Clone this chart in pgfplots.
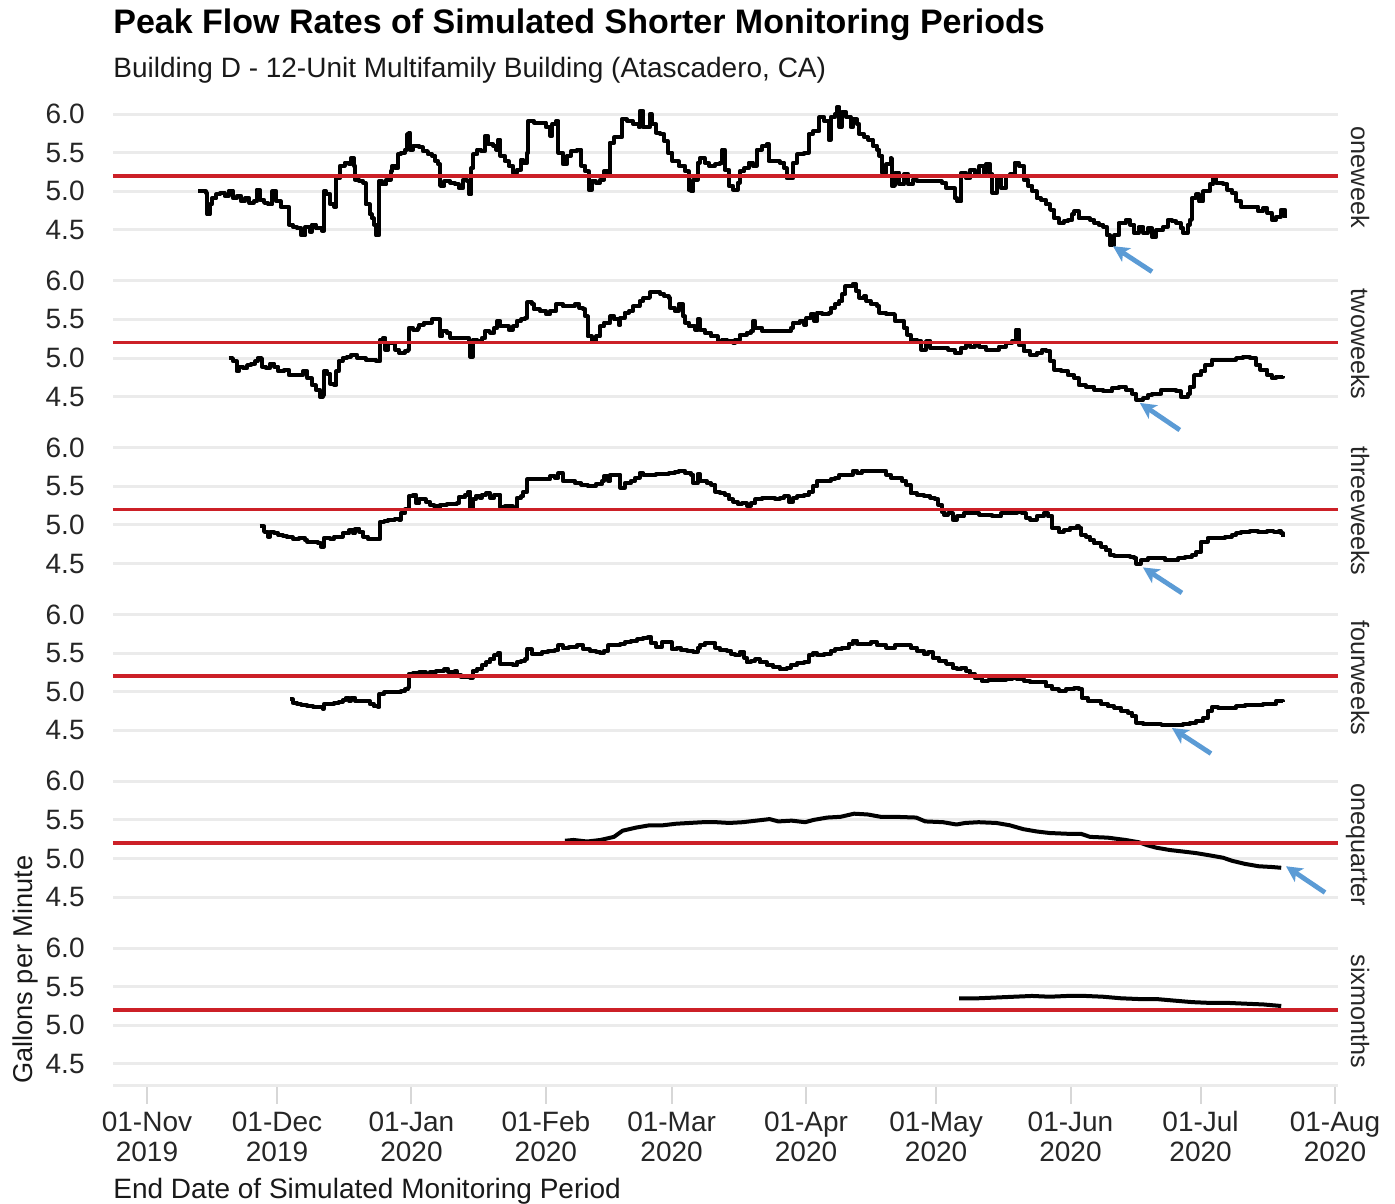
\documentclass[border=0pt]{standalone}
\usepackage{pgfplots}
\pgfplotsset{compat=1.18}
\usepackage{fontspec}
\setmainfont{Liberation Sans}
\usetikzlibrary{arrows.meta}
\definecolor{gridgray}{RGB}{235,235,235}
\definecolor{tickgray}{RGB}{215,215,215}
\definecolor{refred}{RGB}{204,32,39}
\definecolor{arrowblue}{RGB}{91,155,213}
\pgfplotsset{
  panel/.style={
    width=612.5pt, height=74.2pt, scale only axis,
    xmin=-7.84, xmax=274.7, ymin=4.22, ymax=6.14,
    axis line style={draw=none},
    ytick={4.5,5,5.5,6}, yticklabels={4.5,5.0,5.5,6.0},
    ymajorgrids, major grid style={draw=gridgray, line width=1.5pt},
    ytick style={draw=none},
    xtick=\empty,
    yticklabel style={font=\fontsize{14}{14}\selectfont, inner sep=0pt, anchor=east, xshift=-14pt, text=black!85},
    clip=false, anchor=north west,
  },
  ser/.style={black, line width=2pt, const plot, line join=round},
  sers/.style={black, line width=2pt, sharp plot, line join=round},
  refl/.style={refred, line width=1.8pt},
}
\tikzset{
  arr/.style={arrowblue, line width=2.4pt, -{Stealth[length=8pt,width=8pt,inset=2pt]}},
  strip/.style={xshift=6.5pt, rotate=-90, anchor=base, inner sep=0pt, font=\fontsize{12.6}{13}\selectfont, text=black!85},
}
\begin{document}
\begin{tikzpicture}
\useasboundingbox (-56.5pt,51.6pt) rectangle (641pt,-549.9pt);
% ---------------- oneweek
\begin{axis}[panel, name=p1, at={(0,0)}]
\addplot[ser] coordinates {
(11.8,5.01)(12.6,5.00)(13.6,4.98)(13.9,4.70)(14.5,4.83)(15.0,4.91)(16.0,4.96)(16.9,4.98)(17.9,4.94)(18.8,5.01)
(19.8,4.91)(20.7,4.94)(21.7,4.87)(22.6,4.91)(23.6,4.85)(24.6,4.87)(25.3,5.02)(26.0,4.89)(27.0,4.85)(27.9,4.83)
(28.9,5.00)(29.8,4.87)(30.8,4.80)(32.2,4.80)(32.7,4.57)(33.6,4.54)(34.6,4.52)(35.6,4.43)(36.5,4.54)(37.5,4.48)
(38.0,4.57)(38.9,4.52)(40.4,4.49)(40.8,5.00)(41.3,4.96)(42.3,4.83)(43.2,4.80)(43.7,5.17)(44.5,5.33)(45.6,5.37)
(46.6,5.35)(47.0,5.43)(47.7,5.33)(48.0,5.15)(49.0,5.13)(49.9,5.11)(50.4,4.83)(51.4,4.70)(51.8,4.65)(52.3,4.57)
(52.8,4.43)(53.5,5.13)(54.2,5.09)(55.2,5.15)(56.2,5.26)(56.6,5.33)(57.3,5.30)(57.9,5.48)(58.5,5.50)(59.5,5.54)
(60.0,5.74)(60.4,5.76)(60.7,5.54)(61.4,5.59)(62.8,5.57)(63.6,5.52)(64.8,5.48)(65.7,5.46)(66.5,5.39)(67.2,5.35)
(67.6,5.07)(68.6,5.13)(70.0,5.11)(71.0,5.09)(71.9,5.04)(72.9,5.15)(73.8,5.13)(74.3,4.96)(74.8,5.30)(75.3,5.48)
(76.2,5.54)(77.0,5.52)(78.0,5.72)(78.6,5.61)(79.9,5.59)(80.6,5.54)(81.0,5.67)(81.5,5.46)(82.5,5.39)(83.4,5.33)
(84.4,5.24)(85.3,5.28)(86.3,5.41)(86.8,5.37)(87.7,5.50)(87.9,5.91)(89.2,5.89)(90.6,5.89)(92.0,5.83)(93.0,5.72)
(93.5,5.87)(94.4,5.91)(94.9,5.50)(95.9,5.35)(96.8,5.46)(97.8,5.52)(99.2,5.54)(100.2,5.33)(101.1,5.26)(101.9,5.02)
(102.6,5.13)(103.5,5.11)(104.5,5.15)(105.4,5.26)(106.4,5.20)(106.7,5.63)(107.8,5.70)(108.8,5.70)(109.5,5.93)(110.7,5.91)
(112.1,5.87)(113.4,5.83)(113.7,6.04)(114.5,5.83)(116.0,6.00)(116.4,5.87)(117.4,5.76)(118.4,5.74)(119.3,5.65)(120.1,5.50)
(121.2,5.39)(122.6,5.33)(124.1,5.26)(124.9,5.02)(125.5,5.00)(126.0,5.15)(127.0,5.37)
(127.5,5.43)(128.6,5.37)(129.6,5.33)(131.1,5.35)(132.1,5.37)(132.7,5.54)(133.2,5.28)(134.2,5.07)(135.2,5.02)(136.2,5.11)
(136.7,5.26)(137.8,5.30)(138.8,5.37)(139.8,5.33)(140.6,5.54)(141.9,5.59)(142.9,5.61)(143.4,5.39)(144.4,5.39)(145.9,5.37)
(147.0,5.30)(147.5,5.17)(148.5,5.17)(149.0,5.37)(150.0,5.48)(151.6,5.50)(152.6,5.74)(153.6,5.78)(154.6,5.78)(155.1,5.96)
(156.2,5.91)(157.2,5.67)(157.7,5.96)(158.7,6.00)(159.2,6.09)(159.7,5.83)(160.2,6.02)(161.3,5.96)(162.3,5.83)(162.8,5.93)
(163.8,5.87)(164.3,5.74)(165.4,5.70)(166.4,5.67)(167.4,5.59)(168.4,5.54)(168.9,5.46)(169.6,5.24)(170.5,5.35)(171.5,5.43)
(171.8,5.07)(172.5,5.24)(173.5,5.09)(174.6,5.22)(175.6,5.09)(176.6,5.15)(177.6,5.13)(179.7,5.13)(181.7,5.13)(183.3,5.11)
(184.3,5.04)(185.3,5.04)(186.3,4.91)(186.8,4.87)(187.8,5.24)(188.9,5.17)(189.9,5.28)(190.9,5.22)(192.0,5.33)(193.0,5.24)
(193.5,5.35)(194.5,5.22)(195.0,4.98)(196.0,5.17)(197.0,5.04)(198.1,5.20)(199.1,5.22)(200.1,5.37)(201.1,5.33)(202.2,5.15)
(203.2,5.07)(204.2,5.00)(205.2,4.91)(206.2,4.89)(207.3,4.83)(208.3,4.76)(209.3,4.65)(210.3,4.59)(211.4,4.61)(212.4,4.63)
(213.4,4.70)(213.9,4.74)(214.9,4.65)(216.0,4.65)(217.5,4.63)(218.5,4.59)(219.5,4.57)(220.6,4.54)(221.4,4.43)(222.1,4.30)
(223.1,4.43)(224.1,4.59)(225.7,4.63)(226.7,4.57)(227.7,4.46)(228.7,4.54)(229.8,4.46)(230.8,4.52)(231.8,4.41)(232.8,4.50)
(234.4,4.54)(235.4,4.63)(236.4,4.61)(237.4,4.59)(238.4,4.52)(239.0,4.46)(240.0,4.57)(240.5,4.63)(241.0,4.91)(242.0,4.96)
(242.6,4.87)(243.6,5.00)(245.1,5.09)(245.9,5.20)(246.6,5.11)(248.2,5.09)(249.2,5.02)(250.2,4.98)(251.2,4.87)(252.3,4.80)
(253.8,4.80)(255.3,4.80)(256.3,4.74)(257.4,4.78)(258.4,4.72)(259.4,4.63)(260.4,4.67)(261.5,4.76)(262.5,4.66)
};
\addplot[refl] coordinates {(-7.84,5.2) (274.7,5.2)};
\draw[arr] (axis cs:231.8,3.96) -- (axis cs:222.8,4.29);
\node[strip] at (rel axis cs:1,0.5) {oneweek};
\end{axis}
% ---------------- twoweeks
\begin{axis}[panel, name=p2, at={(0,-83.4pt)}]
\addplot[ser] coordinates {
(18.8,5.00)(19.8,4.96)(20.7,4.83)(21.2,4.89)(22.2,4.87)(23.1,4.91)(24.1,4.93)(25.0,4.96)(25.5,5.00)(26.5,4.89)
(27.4,4.87)(28.4,4.93)(29.4,4.89)(30.3,4.83)(31.7,4.85)(32.7,4.78)(34.1,4.78)(36.0,4.83)(37.0,4.74)(38.0,4.65)
(38.9,4.59)(39.9,4.50)(40.5,4.52)(40.8,4.83)(41.6,4.80)(42.3,4.67)(43.2,4.65)(43.7,4.83)(44.2,4.96)(45.1,5.00)
(46.1,5.02)(47.0,5.04)(48.5,5.00)(50.4,4.98)(52.8,4.96)(53.3,4.96)(53.8,5.24)(54.4,5.26)(55.0,5.11)(55.7,5.20)
(56.6,5.20)(57.3,5.11)(58.1,5.07)(59.5,5.09)(60.2,5.11)(60.4,5.39)(61.4,5.37)(62.4,5.39)(62.8,5.43)(63.8,5.46)
(64.8,5.46)(65.7,5.50)(67.2,5.50)(67.6,5.28)(68.1,5.35)(69.1,5.33)(70.0,5.26)(71.4,5.26)(73.8,5.26)(74.3,5.22)
(74.6,5.02)(75.1,5.24)(76.2,5.22)(77.2,5.26)(78.0,5.35)(79.1,5.33)(80.1,5.39)(80.8,5.48)(81.5,5.41)(82.5,5.41)
(83.4,5.37)(84.4,5.41)(85.3,5.48)(86.3,5.50)(87.2,5.52)(87.7,5.72)(88.7,5.70)(89.2,5.63)(90.6,5.61)(92.0,5.57)
(93.0,5.61)(94.4,5.70)(95.9,5.67)(97.3,5.67)(98.7,5.70)(99.7,5.65)(100.6,5.63)(101.1,5.54)(101.6,5.28)(102.6,5.22)
(103.5,5.28)(104.5,5.41)(105.4,5.46)(106.9,5.54)(107.8,5.50)(108.8,5.43)(109.2,5.52)(110.2,5.59)(111.2,5.61)(112.1,5.67)
(113.6,5.74)(114.5,5.78)(116.0,5.85)(117.4,5.85)(118.4,5.83)(119.3,5.80)(120.3,5.78)(120.7,5.65)(121.7,5.61)(122.6,5.70)
(123.6,5.54)(124.1,5.46)(125.0,5.41)(126.5,5.37)(127.0,5.50)
(127.5,5.37)(128.6,5.33)(130.1,5.28)(131.6,5.22)(132.7,5.24)(133.7,5.22)(135.2,5.20)(135.7,5.24)(136.7,5.30)(138.3,5.33)
(139.3,5.35)(139.8,5.48)(140.3,5.39)(141.9,5.35)(143.4,5.35)(144.9,5.35)(146.4,5.35)(148.0,5.35)(148.5,5.39)(149.0,5.46)
(150.5,5.48)(151.6,5.43)(152.1,5.52)(153.1,5.57)(153.9,5.48)(154.6,5.59)(155.7,5.57)(157.2,5.59)(157.7,5.65)(158.7,5.70)
(159.7,5.74)(160.4,5.83)(161.1,5.93)(161.8,5.93)(162.8,5.96)(163.5,5.87)(164.3,5.78)(165.4,5.80)(165.9,5.74)(166.9,5.70)
(168.4,5.67)(168.9,5.59)(170.5,5.57)(171.5,5.57)(172.5,5.48)(173.5,5.48)(174.6,5.39)(175.4,5.30)(176.1,5.24)(177.6,5.22)
(178.6,5.11)(179.7,5.22)(180.7,5.13)(182.7,5.13)(184.8,5.11)(186.3,5.07)(187.8,5.13)(188.9,5.17)(189.9,5.15)(190.9,5.20)
(192.0,5.15)(193.5,5.11)(195.0,5.11)(196.5,5.15)(198.1,5.20)(199.6,5.22)(200.4,5.37)(201.1,5.17)(202.2,5.09)(203.7,5.04)
(205.2,5.07)(206.5,5.11)(207.3,5.09)(208.3,4.96)(209.3,4.85)(210.9,4.83)(212.4,4.78)(213.9,4.74)(214.9,4.65)(216.5,4.63)
(218.5,4.59)(220.6,4.57)(222.6,4.61)(224.1,4.63)(225.7,4.59)(227.2,4.54)(228.2,4.46)(229.8,4.48)(230.8,4.52)(231.8,4.54)
(233.9,4.59)(235.9,4.59)(237.4,4.57)(238.4,4.50)(240.0,4.54)(240.5,4.63)(241.5,4.78)(243.1,4.83)(244.1,4.91)(245.6,4.98)
(247.1,4.98)(249.2,4.98)(251.2,5.00)(252.8,5.02)(254.3,5.00)(255.8,4.91)(256.8,4.85)(258.4,4.78)(259.4,4.74)(260.4,4.76)
(262.0,4.77)
};
\addplot[refl] coordinates {(-7.84,5.2) (274.7,5.2)};
\draw[arr] (axis cs:238.2,4.07) -- (axis cs:229.0,4.42);
\node[strip] at (rel axis cs:1,0.5) {twoweeks};
\end{axis}
% ---------------- threeweeks
\begin{axis}[panel, name=p3, at={(0,-166.8pt)}]
\addplot[ser] coordinates {
(26.0,4.98)(27.0,4.91)(27.9,4.85)(28.4,4.91)(29.4,4.89)(30.3,4.87)(31.3,4.86)(32.2,4.84)(33.6,4.82)(35.1,4.83)
(36.5,4.80)(37.0,4.78)(38.4,4.78)(39.4,4.76)(40.1,4.72)(40.8,4.83)(42.3,4.82)(43.2,4.85)(44.2,4.85)(45.1,4.89)
(46.1,4.89)(46.6,4.93)(47.5,4.89)(48.0,4.95)(49.0,4.91)(49.9,4.85)(50.9,4.82)(52.3,4.82)(53.3,4.82)(53.8,5.04)
(54.7,5.05)(55.7,5.07)(56.6,5.07)(57.1,5.08)(58.1,5.07)(58.5,5.15)(59.5,5.20)(60.4,5.37)(61.4,5.39)(62.1,5.28)
(62.8,5.33)(64.3,5.30)(65.2,5.26)(66.2,5.24)(67.2,5.22)(67.6,5.26)(69.1,5.27)(70.5,5.27)(71.4,5.28)(71.9,5.36)
(73.4,5.39)(74.1,5.43)(74.6,5.20)(75.1,5.33)(75.8,5.37)(76.7,5.35)(77.2,5.39)(78.2,5.41)(79.1,5.35)(80.1,5.39)
(81.0,5.39)(81.5,5.23)(82.5,5.24)(83.4,5.24)(84.4,5.22)(85.3,5.35)(86.3,5.37)(86.8,5.43)(87.7,5.59)(89.2,5.59)
(90.6,5.59)(92.0,5.59)(93.0,5.63)(94.0,5.61)(94.9,5.67)(95.9,5.57)(97.3,5.57)(98.7,5.54)(100.2,5.52)(101.6,5.50)
(102.6,5.50)(103.5,5.53)(105.0,5.57)(105.4,5.63)(106.4,5.57)(106.9,5.65)(107.8,5.65)(108.8,5.65)(109.2,5.48)(110.2,5.54)
(111.6,5.57)(112.6,5.61)(113.6,5.67)(114.5,5.65)(116.0,5.65)(117.4,5.66)(118.8,5.66)(120.3,5.67)(121.7,5.69)(122.6,5.70)
(124.1,5.67)(125.5,5.65)(126.0,5.54)(127.0,5.66)
(127.5,5.57)(129.1,5.54)(130.1,5.52)(131.1,5.43)(132.1,5.41)(133.2,5.39)(134.2,5.33)(135.2,5.30)(136.2,5.27)(137.2,5.28)
(138.3,5.25)(139.3,5.28)(140.3,5.33)(141.9,5.35)(143.4,5.35)(144.9,5.33)(145.9,5.35)(147.0,5.37)(148.0,5.30)(149.0,5.35)
(150.0,5.37)(151.6,5.39)(152.6,5.43)(153.6,5.50)(154.6,5.57)(156.2,5.57)(157.7,5.59)(158.7,5.61)(159.7,5.65)(161.3,5.65)
(162.8,5.70)(163.8,5.67)(164.8,5.70)(166.4,5.70)(168.4,5.70)(169.4,5.70)(170.5,5.65)(171.5,5.61)(173.0,5.61)(174.1,5.57)
(175.1,5.52)(176.1,5.41)(177.6,5.39)(179.2,5.37)(180.7,5.35)(181.7,5.33)(182.5,5.26)(183.3,5.17)(183.8,5.13)(184.8,5.15)
(185.8,5.07)(186.8,5.11)(188.4,5.15)(189.9,5.15)(192.0,5.13)(193.5,5.13)(195.0,5.11)(197.0,5.15)(199.1,5.15)(200.6,5.17)
(201.7,5.15)(202.7,5.09)(203.7,5.07)(205.2,5.11)(206.8,5.15)(207.8,5.11)(208.8,4.96)(210.3,4.91)(211.4,4.93)(212.9,4.96)
(214.4,4.98)(214.9,4.96)(215.5,4.87)(216.5,4.85)(217.5,4.80)(218.5,4.76)(220.1,4.72)(221.1,4.67)(222.1,4.61)(223.1,4.60)
(224.7,4.60)(226.7,4.59)(227.7,4.57)(228.2,4.50)(229.2,4.54)(230.8,4.57)(232.8,4.57)(234.9,4.54)(236.4,4.54)(237.9,4.57)
(239.5,4.59)(241.0,4.61)(242.0,4.65)(243.1,4.78)(244.6,4.83)(246.1,4.83)(247.7,4.83)(248.7,4.85)(250.2,4.87)(251.2,4.89)
(252.3,4.91)(254.3,4.92)(256.3,4.91)(258.4,4.92)(259.9,4.91)(261.0,4.92)(261.5,4.89)(262.0,4.84)
};
\addplot[refl] coordinates {(-7.84,5.2) (274.7,5.2)};
\draw[arr] (axis cs:238.7,4.12) -- (axis cs:229.7,4.45);
\node[strip] at (rel axis cs:1,0.5) {threeweeks};
\end{axis}
% ---------------- fourweeks
\begin{axis}[panel, name=p4, at={(0,-250.2pt)}]
\addplot[ser] coordinates {
(33.0,4.90)(33.6,4.86)(34.6,4.84)(35.6,4.83)(37.0,4.81)(38.4,4.80)(39.9,4.80)(40.5,4.78)(40.8,4.84)(42.3,4.84)
(43.2,4.86)(44.2,4.87)(45.1,4.89)(45.8,4.92)(46.6,4.88)(47.0,4.92)(48.0,4.88)(49.0,4.88)(50.4,4.88)(51.4,4.84)
(52.3,4.81)(53.3,4.80)(53.6,4.97)(54.7,4.99)(56.2,5.00)(57.6,4.99)(58.5,5.01)(59.5,5.03)(60.2,5.05)(60.4,5.23)
(61.4,5.24)(62.8,5.25)(64.3,5.22)(65.2,5.25)(66.7,5.27)(68.1,5.27)(68.6,5.29)(69.5,5.26)(71.0,5.27)(71.4,5.22)
(72.4,5.19)(73.8,5.19)(74.6,5.18)(75.1,5.27)(76.2,5.30)(77.2,5.34)(78.2,5.38)(79.1,5.42)(80.1,5.47)(81.0,5.50)
(81.5,5.36)(82.9,5.36)(84.4,5.34)(85.3,5.38)(86.3,5.40)(87.2,5.42)(87.7,5.55)(88.7,5.49)(89.6,5.49)(91.1,5.51)
(92.5,5.53)(94.0,5.54)(94.9,5.60)(95.9,5.57)(97.3,5.58)(99.2,5.60)(100.6,5.55)(102.1,5.53)(103.5,5.52)(104.5,5.50)
(105.4,5.53)(106.4,5.60)(107.8,5.60)(109.2,5.62)(110.2,5.64)(111.6,5.66)(113.1,5.68)(114.5,5.70)(115.5,5.71)(116.2,5.63)
(117.4,5.58)(118.8,5.64)(120.3,5.64)(121.0,5.55)(122.2,5.57)(123.1,5.54)(124.6,5.53)(126.0,5.52)(127.0,5.57)
(127.5,5.60)(128.6,5.63)(130.1,5.63)(131.1,5.57)(132.1,5.54)(133.7,5.53)(134.7,5.49)(135.7,5.47)(136.7,5.51)(137.8,5.44)
(138.3,5.38)(139.3,5.40)(140.3,5.42)(141.3,5.38)(142.9,5.35)(144.4,5.32)(145.9,5.29)(147.5,5.31)(148.5,5.35)(150.0,5.37)
(151.6,5.38)(152.6,5.47)(153.6,5.50)(154.6,5.47)(156.2,5.49)(157.7,5.53)(158.7,5.55)(160.2,5.57)(161.8,5.62)(162.8,5.66)
(163.8,5.62)(165.4,5.62)(166.9,5.64)(168.4,5.60)(170.5,5.57)(172.5,5.60)(174.6,5.60)(176.1,5.57)(177.6,5.53)(179.2,5.49)
(180.2,5.51)(181.2,5.44)(182.7,5.40)(184.3,5.36)(185.8,5.31)(186.8,5.29)(187.8,5.31)(188.9,5.27)(189.9,5.23)(190.9,5.18)
(192.5,5.14)(194.0,5.15)(196.0,5.15)(198.1,5.16)(199.6,5.18)(200.6,5.16)(202.2,5.14)(203.7,5.12)(205.2,5.12)(206.2,5.13)
(207.3,5.07)(208.8,5.03)(210.3,5.01)(211.9,5.03)(213.9,5.05)(214.9,5.03)(215.7,4.92)(217.0,4.88)(218.5,4.88)(220.1,4.84)
(221.6,4.81)(223.1,4.79)(224.7,4.75)(226.2,4.73)(227.2,4.68)(228.2,4.60)(229.8,4.58)(231.8,4.58)(233.9,4.57)(235.4,4.57)
(237.4,4.57)(239.0,4.58)(240.5,4.60)(242.0,4.62)(243.6,4.66)(244.6,4.75)(245.6,4.80)(247.1,4.79)(249.2,4.79)(251.2,4.81)
(253.3,4.83)(255.3,4.83)(257.4,4.84)(259.4,4.84)(260.4,4.88)(262.0,4.87)
};
\addplot[refl] coordinates {(-7.84,5.2) (274.7,5.2)};
\draw[arr] (axis cs:245.4,4.20) -- (axis cs:236.4,4.53);
\node[strip] at (rel axis cs:1,0.5) {fourweeks};
\end{axis}
% ---------------- onequarter
\begin{axis}[panel, name=p5, at={(0,-333.6pt)}]
\addplot[sers] coordinates {
(96.4,5.23)(98.4,5.24)(101.5,5.22)(104.6,5.24)(107.7,5.28)(109.7,5.36)(112.8,5.40)(115.9,5.43)(119.0,5.43)(122.0,5.45)
(125.1,5.46)(128.2,5.47)(131.3,5.47)(134.3,5.46)(137.4,5.47)(140.5,5.49)(143.6,5.51)(145.6,5.48)(148.7,5.49)(151.8,5.47)
(153.8,5.50)(156.9,5.53)(160.0,5.54)(163.1,5.58)(166.2,5.57)(169.2,5.54)(172.3,5.54)(177.4,5.53)(179.5,5.48)(183.6,5.47)
(186.7,5.44)(188.7,5.46)(191.8,5.47)(195.9,5.46)(199.0,5.43)(202.1,5.38)(205.2,5.35)(208.2,5.33)(212.3,5.32)(215.4,5.32)
(217.5,5.28)(221.6,5.27)(225.7,5.24)(228.8,5.21)(230.8,5.17)(232.8,5.14)(235.9,5.11)(239.0,5.09)(242.0,5.07)(245.2,5.04)
(248.2,5.01)(250.3,4.97)(253.3,4.93)(256.4,4.90)(259.5,4.89)(261.6,4.88)
};
\addplot[refl] coordinates {(-7.84,5.2) (274.7,5.2)};
\draw[arr] (axis cs:271.7,4.56) -- (axis cs:262.7,4.90);
\node[strip] at (rel axis cs:1,0.5) {onequarter};
\end{axis}
% ---------------- sixmonths
\begin{axis}[panel, name=p6, at={(0,-417pt)},
  xtick={0,30,61,92,121,152,182,213,243,274},
  xticklabels={{\strut 01-Nov\\2019},{\strut 01-Dec\\2019},{\strut 01-Jan\\2020},{\strut 01-Feb\\2020},{\strut 01-Mar\\2020},{\strut 01-Apr\\2020},{\strut 01-May\\2020},{\strut 01-Jun\\2020},{\strut 01-Jul\\2020},{\strut 01-Aug\\2020}},
  xticklabel style={align=center, font=\fontsize{14}{15}\selectfont, inner sep=0pt, text=black!85, yshift=-3pt},
  yticklabel style={xshift=9pt},
  xtick style={draw=tickgray, line width=1pt}, xtick pos=left, tick align=outside, major tick length=9pt]
\draw[gridgray, line width=1.5pt] (rel axis cs:0,0) -- (rel axis cs:1,0);
\addplot[sers] coordinates {
(187.3,5.35)(191.8,5.35)(195.9,5.36)(200.0,5.37)(204.1,5.38)(208.2,5.37)(212.3,5.38)(216.4,5.38)(220.5,5.37)(224.6,5.35)
(228.8,5.34)(232.8,5.34)(236.9,5.32)(241.1,5.30)(245.2,5.29)(249.3,5.29)(253.3,5.28)(257.5,5.27)(261.6,5.25)
};
\addplot[refl] coordinates {(-7.84,5.2) (274.7,5.2)};
\node[strip] at (rel axis cs:1,0.5) {sixmonths};
\end{axis}
% ---------------- titles
\node[anchor=base west, inner sep=0pt, font=\bfseries\fontsize{17}{20}\selectfont] at (0,34.6pt) {Peak Flow Rates of Simulated Shorter Monitoring Periods};
\node[anchor=base west, inner sep=0pt, font=\fontsize{14}{16}\selectfont, text=black!90] at (0,12.6pt) {Building D - 12-Unit Multifamily Building (Atascadero, CA)};
\node[anchor=base west, inner sep=0pt, font=\fontsize{14}{16}\selectfont, text=black!90] at (0,-547.4pt) {End Date of Simulated Monitoring Period};
\node[rotate=90, anchor=base west, inner sep=0pt, font=\fontsize{13.6}{16}\selectfont, text=black!90] at (-40pt,-490.5pt) {Gallons per Minute};
\end{tikzpicture}
\end{document}
